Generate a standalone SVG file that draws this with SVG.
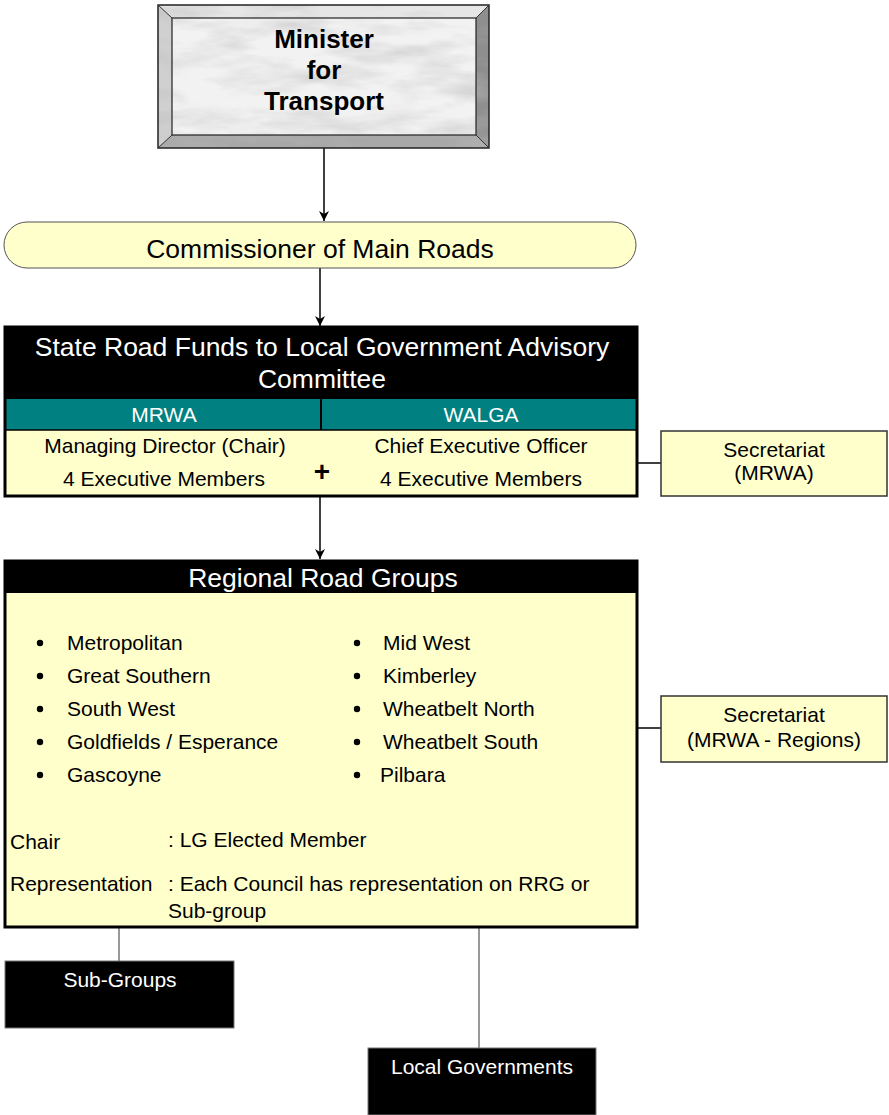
<svg xmlns="http://www.w3.org/2000/svg" width="889" height="1115" viewBox="0 0 889 1115">
<defs>
<style>
text{font-family:"Liberation Sans",Arial,sans-serif;fill:#000}
.w{fill:#fff}
.h{font-size:26.5px}
.n{font-size:21px}
.b{font-weight:bold;font-size:26px}
.c{text-anchor:middle}
.conn{stroke:#000;stroke-width:1.5;fill:none}
.thin{stroke:#333;stroke-width:1;fill:none}
.yel{fill:#ffffcc}
.sec{fill:#ffffcc;stroke:#333;stroke-width:1.5}
.blk{fill:#000;stroke:#777;stroke-width:1}
</style>
<marker id="arr" viewBox="0 0 10 10" refX="10" refY="5" markerWidth="10" markerHeight="10" markerUnits="userSpaceOnUse" orient="auto">
<path d="M0,0 L10,5 L0,10 L3,5 Z" fill="#000"/>
</marker>
<filter id="marble" x="0" y="0" width="1" height="1">
<feTurbulence type="fractalNoise" baseFrequency="0.012 0.045" numOctaves="4" seed="7" result="t"/>
<feColorMatrix in="t" type="matrix" values="0 0 0 0 0.5  0 0 0 0 0.5  0 0 0 0 0.5  1.3 0 0 0 -0.55" result="m"/>
<feComposite in="m" in2="SourceGraphic" operator="in"/>
</filter>
</defs>

<g id="connectors">
<line class="conn" x1="324" y1="148" x2="324" y2="221" marker-end="url(#arr)"/>
<line class="conn" x1="320" y1="268" x2="320" y2="326" marker-end="url(#arr)"/>
<line class="conn" x1="320" y1="497" x2="320" y2="559" marker-end="url(#arr)"/>
<line class="conn" x1="637" y1="463" x2="661" y2="463"/>
<line class="conn" x1="637" y1="728" x2="661" y2="728"/>
<line class="thin" x1="119" y1="927" x2="119" y2="961"/>
<line class="thin" x1="479" y1="927" x2="479" y2="1048"/>
</g>

<g id="minister">
<rect x="158" y="5" width="331" height="143" fill="#f2f2f2"/>
<polygon points="158,5 489,5 476,18 172,18" fill="#e6e6e6"/>
<polygon points="158,5 172,18 172,135 158,148" fill="#d0d0d0"/>
<polygon points="489,5 476,18 476,135 489,148" fill="#8e8e8e"/>
<polygon points="158,148 172,135 476,135 489,148" fill="#a8a8a8"/>
<rect x="158" y="5" width="331" height="143" fill="#fff" filter="url(#marble)"/>
<rect x="158" y="5" width="331" height="143" fill="none" stroke="#222" stroke-width="1.5"/>
<rect x="172" y="18" width="304" height="117" fill="none" stroke="#222" stroke-width="1.2"/>
<path d="M158,5 L172,18 M489,5 L476,18 M158,148 L172,135 M489,148 L476,135" stroke="#333" stroke-width="1"/>
<text class="b c" x="324" y="48">Minister</text>
<text class="b c" x="324" y="79">for</text>
<text class="b c" x="324" y="110">Transport</text>
</g>

<g id="commissioner">
<rect x="4" y="222" width="632" height="46" rx="23" ry="23" fill="#ffffcc" stroke="#555" stroke-width="1"/>
<text class="h c" x="320" y="258">Commissioner of Main Roads</text>
</g>

<g id="committee">
<rect x="5" y="327" width="632" height="72" fill="#000"/>
<rect x="5" y="399" width="632" height="31" fill="#008080"/>
<rect x="5" y="430" width="632" height="66" class="yel"/>
<line x1="321" y1="399" x2="321" y2="430" stroke="#000" stroke-width="2"/>
<line x1="5" y1="430" x2="637" y2="430" stroke="#000" stroke-width="1.5"/>
<rect x="5" y="327" width="632" height="169" fill="none" stroke="#000" stroke-width="3"/>
<text class="h c w" x="322" y="356">State Road Funds to Local Government Advisory</text>
<text class="h c w" x="322" y="388">Committee</text>
<text class="n c w" x="164" y="422">MRWA</text>
<text class="n c w" x="481" y="422">WALGA</text>
<text class="n c" x="165" y="453">Managing Director (Chair)</text>
<text class="n c" x="164" y="486">4 Executive Members</text>
<text class="n c" x="481" y="453">Chief Executive Officer</text>
<text class="n c" x="481" y="486">4 Executive Members</text>
<text class="c" x="322" y="481" style="font-size:28px;font-weight:bold">+</text>
</g>

<g id="secretariat-mrwa">
<rect class="sec" x="661" y="431" width="226" height="65"/>
<text class="n c" x="774" y="457">Secretariat</text>
<text class="n c" x="774" y="480">(MRWA)</text>
</g>

<g id="regional-road-groups">
<rect x="5" y="561" width="632" height="32" fill="#000"/>
<rect x="5" y="593" width="632" height="334" class="yel"/>
<rect x="5" y="561" width="632" height="366" fill="none" stroke="#000" stroke-width="3"/>
<text class="h c w" x="323" y="587">Regional Road Groups</text>
<g fill="#000">
<circle cx="40" cy="643" r="3.2"/><circle cx="40" cy="676" r="3.2"/><circle cx="40" cy="709" r="3.2"/><circle cx="40" cy="742" r="3.2"/><circle cx="40" cy="775" r="3.2"/>
<circle cx="357" cy="643" r="3.2"/><circle cx="357" cy="676" r="3.2"/><circle cx="357" cy="709" r="3.2"/><circle cx="357" cy="742" r="3.2"/><circle cx="357" cy="775" r="3.2"/>
</g>
<text class="n" x="67" y="650">Metropolitan</text>
<text class="n" x="67" y="683">Great Southern</text>
<text class="n" x="67" y="716">South West</text>
<text class="n" x="67" y="749">Goldfields / Esperance</text>
<text class="n" x="67" y="782">Gascoyne</text>
<text class="n" x="383" y="650">Mid West</text>
<text class="n" x="383" y="683">Kimberley</text>
<text class="n" x="383" y="716">Wheatbelt North</text>
<text class="n" x="383" y="749">Wheatbelt South</text>
<text class="n" x="380" y="782">Pilbara</text>
<text class="n" x="10" y="849">Chair</text>
<text class="n" x="168" y="847">: LG Elected Member</text>
<text class="n" x="10" y="891">Representation</text>
<text class="n" x="168" y="891">: Each Council has representation on RRG or</text>
<text class="n" x="168" y="918">Sub-group</text>
</g>

<g id="secretariat-regions">
<rect class="sec" x="661" y="696" width="226" height="66"/>
<text class="n c" x="774" y="722">Secretariat</text>
<text class="n c" x="774" y="747">(MRWA - Regions)</text>
</g>

<g id="sub-groups">
<rect class="blk" x="5" y="961" width="229" height="67"/>
<text class="n c w" x="120" y="987">Sub-Groups</text>
</g>

<g id="local-governments">
<rect class="blk" x="368" y="1048" width="228" height="67"/>
<text class="n c w" x="482" y="1074">Local Governments</text>
</g>
</svg>
